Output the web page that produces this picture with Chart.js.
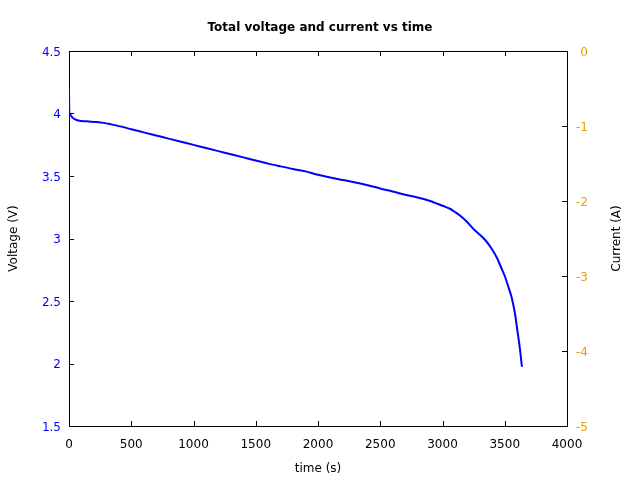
<!DOCTYPE html>
<html lang="en">
<head>
  <meta charset="UTF-8" />
  <title>Total voltage and current vs time</title>
  <script src="https://cdn.jsdelivr.net/npm/chart.js"></script>
  <style>
    html, body { margin: 0; background: #fff; }
    #wrap { width: 640px; height: 480px; }
  </style>
</head>
<body>
<div id="wrap"><canvas id="chart" width="640" height="480"></canvas></div>
<script>
  // values
  const timeS = [0, 2, 10, 30, 60, 100, 160, 220, 280, 340, 420, 500, 600, 700, 800, 900,
    1000, 1100, 1200, 1300, 1400, 1500, 1600, 1700, 1800, 1900, 2000, 2100, 2200, 2300,
    2400, 2500, 2600, 2700, 2800, 2900, 3000, 3060, 3100, 3150, 3200, 3250, 3300, 3350,
    3400, 3440, 3470, 3500, 3530, 3555, 3582, 3601, 3623, 3638];
  const voltage = [4.19, 4.03, 3.99, 3.965, 3.948, 3.94, 3.936, 3.932, 3.925, 3.913, 3.895,
    3.874, 3.849, 3.824, 3.799, 3.774, 3.749, 3.724, 3.699, 3.674, 3.649, 3.624, 3.599,
    3.577, 3.556, 3.537, 3.51, 3.488, 3.468, 3.448, 3.426, 3.40, 3.376, 3.35, 3.328, 3.30,
    3.262, 3.238, 3.212, 3.176, 3.13, 3.075, 3.03, 2.98, 2.91, 2.84, 2.77, 2.70, 2.61,
    2.53, 2.40, 2.268, 2.108, 1.974];
  const current = []; // no current trace is visible in the reference

  const voltTicks = [1.5, 2, 2.5, 3, 3.5, 4, 4.5];
  const currTicks = [-5, -4, -3, -2, -1, 0];
  const timeTicks = [0, 500, 1000, 1500, 2000, 2500, 3000, 3500, 4000];

  const blue = '#0000ff';
  const orange = '#e69f00';
  const font = { family: 'DejaVu Sans', size: 12 };

  // gnuplot style frame with inward tick marks, drawn under the curve
  const framePlugin = {
    id: 'frame',
    beforeDatasetsDraw(chart) {
      const { ctx, chartArea: a, scales } = chart;
      const len = 5;
      ctx.save();
      ctx.strokeStyle = '#000';
      ctx.lineWidth = 1;
      ctx.beginPath();
      timeTicks.forEach(v => {
        const x = Math.round(scales.x.getPixelForValue(v)) + 0.5;
        ctx.moveTo(x, a.bottom); ctx.lineTo(x, a.bottom - len);
        ctx.moveTo(x, a.top); ctx.lineTo(x, a.top + len);
      });
      voltTicks.forEach(v => {
        const y = Math.round(scales.y.getPixelForValue(v)) + 0.5;
        ctx.moveTo(a.left, y); ctx.lineTo(a.left + len, y);
      });
      currTicks.forEach(v => {
        const y = Math.round(scales.y1.getPixelForValue(v)) + 0.5;
        ctx.moveTo(a.right, y); ctx.lineTo(a.right - len, y);
      });
      ctx.stroke();
      ctx.strokeRect(Math.round(a.left) + 0.5, Math.round(a.top) + 0.5,
        Math.round(a.right - a.left), Math.round(a.bottom - a.top));

      // y tick labels, both right-aligned like gnuplot's tics
      ctx.font = '12px "DejaVu Sans"';
      ctx.textAlign = 'right';
      ctx.textBaseline = 'middle';
      ctx.fillStyle = blue;
      voltTicks.forEach(v => {
        ctx.fillText(String(v), a.left - 8, scales.y.getPixelForValue(v) + 1.5);
      });
      ctx.fillStyle = orange;
      currTicks.forEach(v => {
        ctx.fillText(String(v), a.right + 21, scales.y1.getPixelForValue(v) + 1.5);
      });

      // right axis title reads bottom to top like the left one
      ctx.translate(617, (a.top + a.bottom) / 2);
      ctx.rotate(-Math.PI / 2);
      ctx.fillStyle = '#000';
      ctx.textAlign = 'center';
      ctx.fillText('Current (A)', 0, 0);
      ctx.restore();
    }
  };

  new Chart(document.getElementById('chart'), {
    type: 'line',
    data: {
      datasets: [
        {
          label: 'Voltage',
          data: timeS.map((t, i) => ({ x: t, y: voltage[i] })),
          borderColor: blue,
          borderWidth: 2,
          pointRadius: 0,
          cubicInterpolationMode: 'monotone',
          yAxisID: 'y'
        },
        {
          label: 'Current',
          data: current,
          borderColor: orange,
          borderWidth: 2,
          pointRadius: 0,
          yAxisID: 'y1'
        }
      ]
    },
    options: {
      responsive: false,
      animation: false,
      devicePixelRatio: 1,
      layout: { padding: 0 },
      plugins: {
        legend: { display: false },
        tooltip: { enabled: false },
        title: {
          display: true,
          text: 'Total voltage and current vs time',
          color: '#000',
          font: { family: 'DejaVu Sans', size: 12, weight: 'bold' },
          padding: { top: 21, bottom: 15.6 }
        }
      },
      scales: {
        x: {
          type: 'linear',
          min: 0, max: 4000,
          afterFit: s => { s.height = 54; },
          afterBuildTicks: s => { s.ticks = timeTicks.map(v => ({ value: v })); },
          grid: { display: false, drawTicks: false },
          border: { display: false },
          ticks: { color: '#000', font, padding: 12, maxRotation: 0, callback: v => String(v) },
          title: { display: true, text: 'time (s)', color: '#000', font, padding: { top: 0, bottom: 3.8 } }
        },
        y: {
          position: 'left',
          min: 1.5, max: 4.5,
          afterFit: s => { s.width = 69; },
          afterBuildTicks: s => { s.ticks = voltTicks.map(v => ({ value: v })); },
          grid: { display: false, drawTicks: false },
          border: { display: false },
          ticks: { display: false },
          title: { display: true, text: 'Voltage (V)', color: '#000', font, padding: { top: 6.8, bottom: 0 } }
        },
        y1: {
          position: 'right',
          min: -5, max: 0,
          afterFit: s => { s.width = 73; },
          afterBuildTicks: s => { s.ticks = currTicks.map(v => ({ value: v })); },
          grid: { display: false, drawTicks: false },
          border: { display: false },
          ticks: { display: false },
          title: { display: false }
        }
      }
    },
    plugins: [framePlugin]
  });
</script>
</body>
</html>
